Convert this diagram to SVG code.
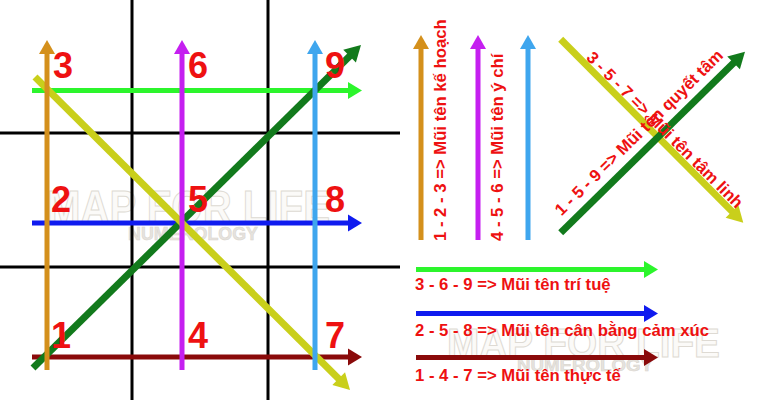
<svg xmlns="http://www.w3.org/2000/svg" width="763" height="400" viewBox="0 0 763 400">
<style>
.grid{stroke:#000;stroke-width:3;fill:none}
.shaft{fill:none;stroke-width:5;stroke-linecap:butt}
.diag{fill:none;stroke-width:7;stroke-linecap:butt}
.num{font-family:"Liberation Sans",Arial,sans-serif;font-weight:bold;font-size:36px;fill:#ee1111}
.lbl{font-family:"Liberation Sans",Arial,sans-serif;font-weight:bold;font-size:16.7px;fill:#ee1111}
.wm{font-family:"Liberation Sans",Arial,sans-serif;font-weight:bold;fill:#fbfaf8;stroke:#dedad3;stroke-width:1}
.wm2{font-family:"Liberation Sans",Arial,sans-serif;font-weight:bold;fill:#e6e3de;stroke:#d8d4cd;stroke-width:0.5}
</style>
<defs>
<marker id="h-orange" markerUnits="userSpaceOnUse" orient="auto" overflow="visible"><path d="M-1,-8 L13,0 L-1,8 z" fill="#d4901c"/></marker>
<marker id="h-magenta" markerUnits="userSpaceOnUse" orient="auto" overflow="visible"><path d="M-1,-8 L13,0 L-1,8 z" fill="#c51ff0"/></marker>
<marker id="h-lblue" markerUnits="userSpaceOnUse" orient="auto" overflow="visible"><path d="M-1,-8 L13,0 L-1,8 z" fill="#3fa6ee"/></marker>
<marker id="h-green" markerUnits="userSpaceOnUse" orient="auto" overflow="visible"><path d="M-1,-8.5 L13,0 L-1,8.5 z" fill="#2cf52c"/></marker>
<marker id="h-blue" markerUnits="userSpaceOnUse" orient="auto" overflow="visible"><path d="M-1,-8.5 L13,0 L-1,8.5 z" fill="#0f1bef"/></marker>
<marker id="h-dred" markerUnits="userSpaceOnUse" orient="auto" overflow="visible"><path d="M-1,-8.5 L13,0 L-1,8.5 z" fill="#8a0a0a"/></marker>
<marker id="h-dgreen" markerUnits="userSpaceOnUse" orient="auto" overflow="visible"><path d="M-1,-9 L15,0 L-1,9 z" fill="#127a1c"/></marker>
<marker id="h-yellow" markerUnits="userSpaceOnUse" orient="auto" overflow="visible"><path d="M-1,-9 L15,0 L-1,9 z" fill="#c9cf1b"/></marker>
</defs>
<rect x="0" y="0" width="763" height="400" fill="#ffffff"/>

<g id="watermark">
<text class="wm" x="47" y="223" font-size="46" textLength="283" lengthAdjust="spacingAndGlyphs">MAP FOR LIFE</text>
<text class="wm2" x="128" y="240" font-size="18" textLength="130" lengthAdjust="spacingAndGlyphs">NUMEROLOGY</text>
<text class="wm" x="447" y="357" font-size="40" textLength="273" lengthAdjust="spacingAndGlyphs">MAP FOR LIFE</text>
<text class="wm2" x="517" y="371" font-size="16" textLength="136" lengthAdjust="spacingAndGlyphs">NUMEROLOGY</text>
</g>

<g id="grid">
<line class="grid" x1="132" y1="0" x2="132" y2="400"/>
<line class="grid" x1="268" y1="0" x2="268" y2="400"/>
<line class="grid" x1="0" y1="133" x2="400" y2="133"/>
<line class="grid" x1="0" y1="267" x2="400" y2="267"/>
</g>

<g id="connectors">
<line class="shaft" stroke="#2cf52c" x1="32" y1="90.5" x2="349" y2="90.5" marker-end="url(#h-green)"/>
<line class="shaft" stroke="#0f1bef" x1="32" y1="223" x2="349" y2="223" marker-end="url(#h-blue)"/>
<line class="shaft" stroke="#8a0a0a" x1="32" y1="357" x2="349" y2="357" marker-end="url(#h-dred)"/>
<line class="diag" stroke="#127a1c" x1="33" y1="368" x2="350.3" y2="55.5" marker-end="url(#h-dgreen)"/>
<line class="diag" stroke="#c9cf1b" x1="35" y1="77" x2="339.4" y2="379.4" marker-end="url(#h-yellow)"/>
<line class="shaft" stroke="#d4901c" x1="47" y1="370" x2="47" y2="53" marker-end="url(#h-orange)"/>
<line class="shaft" stroke="#c51ff0" x1="182" y1="370" x2="182" y2="53" marker-end="url(#h-magenta)"/>
<line class="shaft" stroke="#3fa6ee" x1="315" y1="370" x2="315" y2="53" marker-end="url(#h-lblue)"/>

<line class="shaft" stroke="#d4901c" x1="421" y1="240" x2="421" y2="48" marker-end="url(#h-orange)"/>
<line class="shaft" stroke="#c51ff0" x1="478" y1="240" x2="478" y2="48" marker-end="url(#h-magenta)"/>
<line class="shaft" stroke="#3fa6ee" x1="528" y1="240" x2="528" y2="48" marker-end="url(#h-lblue)"/>
<line class="diag" stroke="#c9cf1b" x1="560.7" y1="39.3" x2="732.7" y2="212.1" marker-end="url(#h-yellow)"/>
<line class="diag" stroke="#127a1c" x1="560.7" y1="232.7" x2="734.3" y2="62.2" marker-end="url(#h-dgreen)"/>
<line class="shaft" stroke="#2cf52c" x1="416" y1="269.5" x2="645" y2="269.5" marker-end="url(#h-green)"/>
<line class="shaft" stroke="#0f1bef" x1="416" y1="313.5" x2="645" y2="313.5" marker-end="url(#h-blue)"/>
<line class="shaft" stroke="#8a0a0a" x1="416" y1="357.5" x2="645" y2="357.5" marker-end="url(#h-dred)"/>
</g>

<g id="n3"><text class="num" x="53" y="78">3</text></g>
<g id="n6"><text class="num" x="188" y="78">6</text></g>
<g id="n9"><text class="num" x="325" y="78">9</text></g>
<g id="n2"><text class="num" x="51" y="212">2</text></g>
<g id="n5"><text class="num" x="188" y="212">5</text></g>
<g id="n8"><text class="num" x="325" y="212">8</text></g>
<g id="n1"><text class="num" x="51" y="348">1</text></g>
<g id="n4"><text class="num" x="188" y="348">4</text></g>
<g id="n7"><text class="num" x="325" y="348">7</text></g>

<g id="label-123"><text class="lbl" transform="translate(446,241) rotate(-90)">1 - 2 - 3 =&gt; Mũi tên kế hoạch</text></g>
<g id="label-456"><text class="lbl" transform="translate(503,241) rotate(-90)">4 - 5 - 6 =&gt; Mũi tên ý chí</text></g>
<g id="label-357"><text class="lbl" transform="translate(585.5,58.5) rotate(45)">3 - 5 - 7 =&gt; Mũi tên tâm linh</text></g>
<g id="label-159"><text class="lbl" transform="translate(561.5,216.5) rotate(-44.5)">1 - 5 - 9 =&gt; Mũi tên quyết tâm</text></g>
<g id="label-369"><text class="lbl" x="415" y="290">3 - 6 - 9 =&gt; Mũi tên trí tuệ</text></g>
<g id="label-258"><text class="lbl" x="415" y="336">2 - 5 - 8 =&gt; Mũi tên cân bằng cảm xúc</text></g>
<g id="label-147"><text class="lbl" x="415" y="381">1 - 4 - 7 =&gt; Mũi tên thực tế</text></g>
</svg>
